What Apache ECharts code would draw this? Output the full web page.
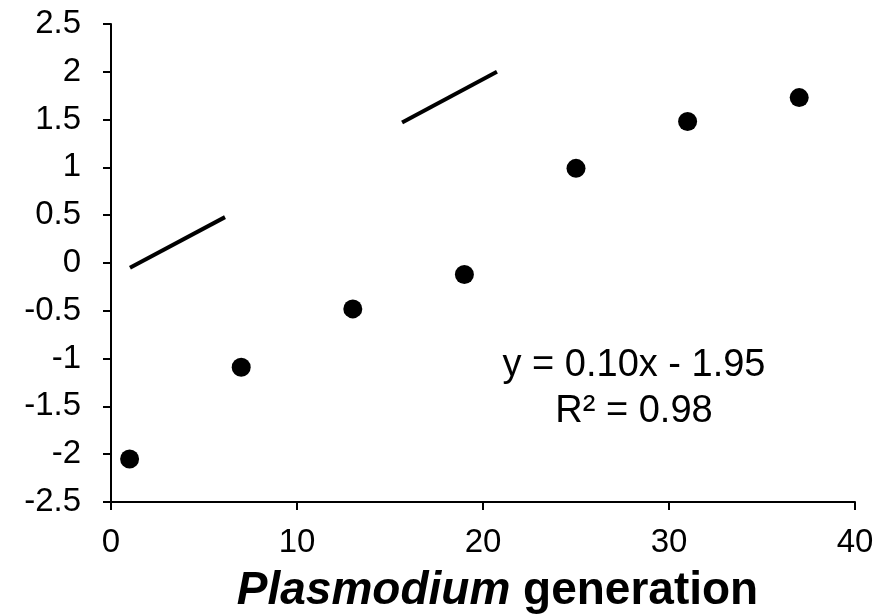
<!DOCTYPE html>
<html>
<head>
<meta charset="utf-8">
<script src="https://cdn.jsdelivr.net/npm/echarts@6/dist/echarts.min.js"></script>
<style>
  html, body { margin: 0; padding: 0; background: #fff; }
  #main { width: 885px; height: 615px; }
</style>
</head>
<body>
<div id="main"></div>
<script>
// generation number and measured value
const generations = [1, 7, 13, 19, 25, 31, 37];
const values = [-2.05, -1.09, -0.48, -0.12, 0.99, 1.48, 1.73];

// the trend line as it is drawn (two visible pieces)
const trendPieceA = [[1.02, -0.05], [6.13, 0.48]];
const trendPieceB = [[15.65, 1.47], [20.75, 2.0]];

const equationText = "y = 0.10x - 1.95";
const r2Text = "R² = 0.98";

const font = "Liberation Sans, Arial, sans-serif";

let chart = echarts.init(document.getElementById("main"));
chart.setOption({
  animation: false,
  grid: { left: 111, right: 30, top: 24, bottom: 113, containLabel: false, outerBoundsMode: "none" },
  xAxis: {
    type: "value",
    min: 0,
    max: 40,
    interval: 10,
    splitLine: { show: false },
    axisLine: { show: true, onZero: false, lineStyle: { color: "#000", width: 2 } },
    axisTick: { show: true, length: 8, lineStyle: { color: "#000", width: 2 } },
    axisLabel: { color: "#000", fontSize: 33, fontFamily: font, margin: 24 },
    name: "{i|Plasmodium }{b|generation}",
    nameLocation: "middle",
    nameGap: 66,
    nameTextStyle: {
      padding: [0, 0, 0, 29],
      rich: {
        i: { fontSize: 46, fontWeight: "bold", fontStyle: "italic", fontFamily: font, color: "#000" },
        b: { fontSize: 46, fontWeight: "bold", fontFamily: font, color: "#000" },
      },
    },
  },
  yAxis: {
    type: "value",
    min: -2.5,
    max: 2.5,
    interval: 0.5,
    splitLine: { show: false },
    axisLine: { show: true, onZero: false, lineStyle: { color: "#000", width: 2 } },
    axisTick: { show: true, length: 8, lineStyle: { color: "#000", width: 2 } },
    axisLabel: { color: "#000", fontSize: 33, fontFamily: font, margin: 30 },
  },
  graphic: [
    {
      type: "text",
      x: 634,
      y: 343,
      style: {
        text: equationText + "\n" + r2Text,
        font: "38px " + font,
        fill: "#000",
        align: "center",
        lineHeight: 46,
      },
    },
  ],
  series: [
    {
      type: "line",
      data: trendPieceA,
      symbol: "none",
      lineStyle: { color: "#000", width: 4 },
    },
    {
      type: "line",
      data: trendPieceB,
      symbol: "none",
      lineStyle: { color: "#000", width: 4 },
    },
    {
      type: "scatter",
      data: generations.map((g, i) => [g, values[i]]),
      symbol: "circle",
      symbolSize: 19,
      itemStyle: { color: "#000", opacity: 1 },
      z: 3,
    },
  ],
});
</script>
</body>
</html>
